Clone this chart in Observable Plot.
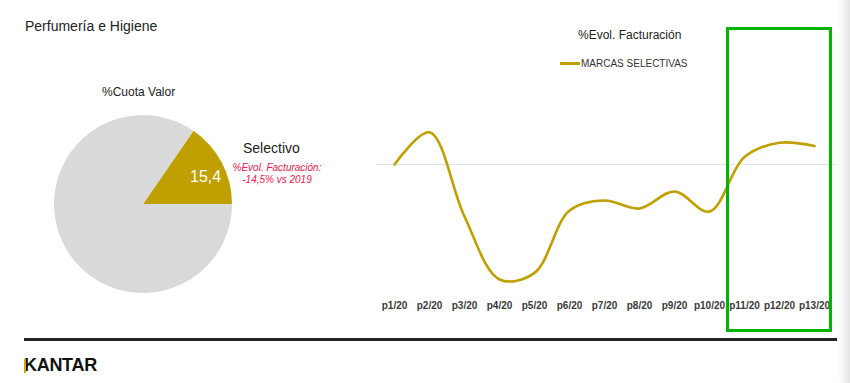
<!DOCTYPE html>
<html>
<head>
<meta charset="utf-8">
<script src="https://cdn.jsdelivr.net/npm/d3@7"></script>
<script src="https://cdn.jsdelivr.net/npm/@observablehq/plot@0.6"></script>
<style>
  html, body { margin: 0; padding: 0; background: #fff; }
  body { width: 850px; height: 383px; overflow: hidden; font-family: Arial, "Liberation Sans", sans-serif; }
  #page { position: relative; width: 850px; height: 383px; }
  .abs { position: absolute; white-space: nowrap; }
  svg text { font-family: Arial, "Liberation Sans", sans-serif; }
</style>
</head>
<body>
<div id="page"></div>
<script>
// ---- data ----
const periods = ["p1/20","p2/20","p3/20","p4/20","p5/20","p6/20","p7/20","p8/20","p9/20","p10/20","p11/20","p12/20","p13/20"];
const evolSelectivas = [0, 11.7, -18.9, -41.8, -39.4, -16.7, -13.1, -16.0, -9.8, -17.1, 2.7, 7.9, 6.7];
const shareNames = ["Selectivo", "Resto"];
const shareValues = [15.4, 84.6];
const shareLabel = "15,4";

const GOLD = "#bfa000";
const page = document.getElementById("page");

function addText(txt, left, top, style) {
  const d = document.createElement("div");
  d.className = "abs";
  d.textContent = txt;
  d.style.left = left + "px";
  d.style.top = top + "px";
  Object.assign(d.style, style || {});
  page.appendChild(d);
  return d;
}

// ---- pie chart (Plot with function mark using d3.pie/arc) ----
const shareData = shareNames.map((n, i) => ({name: n, value: shareValues[i]}));
const pieColor = d3.scaleOrdinal().domain(shareNames).range([GOLD, "#d9d9d9"]);
const pieStart = Math.PI / 2 - 2 * Math.PI * shareValues[0] / d3.sum(shareValues);
const pie = d3.pie().value(d => d.value).sort(null).startAngle(pieStart).endAngle(pieStart + 2 * Math.PI);
const arc = d3.arc().innerRadius(0).outerRadius(89);

const piePlot = Plot.plot({
  width: 360,
  height: 330,
  margin: 0,
  x: {axis: null},
  y: {axis: null},
  marks: [
    () => {
      const g = d3.create("svg:g").attr("transform", "translate(143,204)");
      g.selectAll("path").data(pie(shareData)).join("path")
        .attr("d", arc)
        .attr("fill", d => pieColor(d.data.name));
      return g.node();
    }
  ]
});
piePlot.style.position = "absolute";
piePlot.style.left = "0px";
piePlot.style.top = "0px";
page.appendChild(piePlot);

// ---- line chart ----
const lineData = periods.map((p, i) => ({period: p, value: evolSelectivas[i]}));
const linePlot = Plot.plot({
  width: 490,
  height: 220,
  marginLeft: 16,
  marginRight: 14,
  marginTop: 0,
  marginBottom: 22,
  x: {type: "point", domain: periods, range: [33, 455], padding: 0, label: null},
  y: {domain: [-50, 20], range: [201.5, 9], axis: null},
  style: {fontSize: "10px", fontFamily: "Arial, 'Liberation Sans', sans-serif", overflow: "visible"},
  marks: [
    Plot.ruleY([0], {stroke: "#e3e3e3", strokeWidth: 1}),
    Plot.line(lineData, {x: "period", y: "value", stroke: GOLD, strokeWidth: 2.6, curve: "catmull-rom"}),
    Plot.axisX({tickSize: 0, tickPadding: 3, fontWeight: "bold", fill: "#3a3a3a", label: null})
  ]
});
linePlot.style.position = "absolute";
linePlot.style.left = "360px";
linePlot.style.top = "100px";
page.appendChild(linePlot);

// ---- texts ----
addText("Perfumería e Higiene", 25, 18, {fontSize: "14px", color: "#222"});
addText("%Cuota Valor", 102, 85, {fontSize: "12px", color: "#222"});
addText("Selectivo", 243, 140, {fontSize: "14px", color: "#222"});
addText(shareLabel, 190, 168, {fontSize: "16px", color: "#fff"});
addText("%Evol. Facturación:", 227, 162, {fontSize: "10px", color: "#f0164a", fontStyle: "italic", width: "100px", textAlign: "center"});
addText("-14,5% vs 2019", 227, 174, {fontSize: "10px", color: "#f0164a", fontStyle: "italic", width: "100px", textAlign: "center"});
addText("%Evol. Facturación", 578, 28, {fontSize: "12px", color: "#222"});
addText("MARCAS SELECTIVAS", 581, 58, {fontSize: "10px", color: "#333"});

// legend swatch
const sw = document.createElement("div");
sw.className = "abs";
Object.assign(sw.style, {left: "560px", top: "61.5px", width: "20px", height: "3px", background: GOLD});
page.appendChild(sw);

// highlight box
const box = document.createElement("div");
box.className = "abs";
Object.assign(box.style, {left: "726px", top: "27px", width: "106px", height: "305px", border: "3.5px solid #00b400", boxSizing: "border-box"});
page.appendChild(box);

// bottom rule
const rule = document.createElement("div");
rule.className = "abs";
Object.assign(rule.style, {left: "24px", top: "337.5px", width: "813px", height: "3px", background: "#222"});
page.appendChild(rule);

// logo
addText("KANTAR", 24, 355, {fontSize: "18px", fontWeight: "bold", color: "#111", letterSpacing: "-0.3px"});
const kbar = document.createElement("div");
kbar.className = "abs";
Object.assign(kbar.style, {left: "24px", top: "359px", width: "1.5px", height: "14px", background: "#d9a400"});
page.appendChild(kbar);

// right shadow
const shadow = document.createElement("div");
shadow.className = "abs";
Object.assign(shadow.style, {left: "838px", top: "0px", width: "12px", height: "383px", background: "linear-gradient(to right, #ffffff, #e4e4e4)"});
page.appendChild(shadow);
</script>
</body>
</html>
